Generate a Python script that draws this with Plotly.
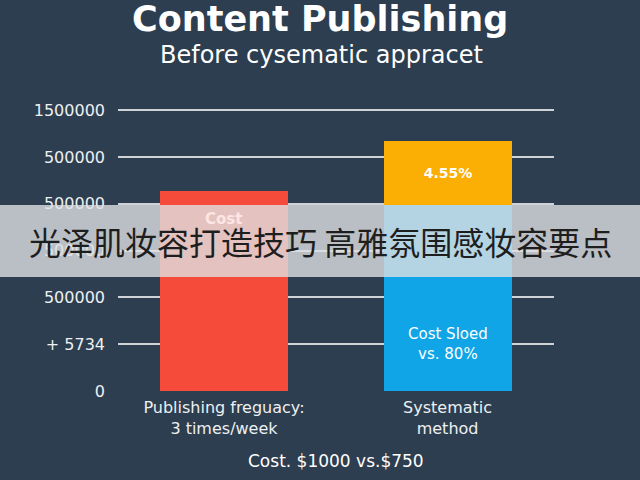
import plotly.graph_objects as go

# ---- data (in grid-line units) ----
categories = ["Publishing freguacy:<br>3 times/week", "Systematic<br>method"]
red_values = [4.27, None]
blue_values = [None, 3.97]
yellow_values = [None, 1.37]
tick_values = [0, 1, 2, 3, 4, 5, 6]
tick_labels = ["0", "+ 5734", "500000", "500000", "500000", "500000", "1500000"]

title_text = "Content Publishing"
subtitle_text = "Before cysematic appracet"
footer_text = "Cost. $1000 vs.$750"
banner_text = "光泽肌妆容打造技巧 高雅氛围感妆容要点"

BG = "#2c3e4f"
RED = "#f44b3a"
BLUE = "#0fa5e6"
YELLOW = "#fbae03"
FONT = "DejaVu Sans, sans-serif"

L, R, T, B = 118, 86, 100, 89
PW, PH = 640 - L - R, 480 - T - B


def px_x(x):
    return (x - L) / PW


def px_y(y_from_top):
    return (480 - y_from_top - B) / PH


x_idx = list(range(len(categories)))

fig = go.Figure()
fig.add_trace(go.Bar(x=x_idx, y=red_values, marker=dict(color=RED, line_width=0),
                     width=0.573, hoverinfo="skip"))
fig.add_trace(go.Bar(x=x_idx, y=blue_values, marker=dict(color=BLUE, line_width=0),
                     width=0.573, hoverinfo="skip"))
fig.add_trace(go.Bar(x=x_idx, y=yellow_values, marker=dict(color=YELLOW, line_width=0),
                     width=0.573, hoverinfo="skip",
                     text=[None, "4.55%"], textposition="inside", insidetextanchor="middle",
                     textfont=dict(family=FONT, size=14, color="white", weight="bold")))

fig.update_layout(
    barmode="stack",
    width=640, height=480,
    paper_bgcolor=BG, plot_bgcolor=BG,
    margin=dict(l=L, r=R, t=T, b=B),
    showlegend=False,
    bargap=0,
    xaxis=dict(range=[-0.474, 1.476], tickvals=x_idx, ticktext=categories,
               showgrid=False, zeroline=False, showline=False, ticks="",
               tickfont=dict(family=FONT, size=16, color="#eef0f2"),
               ticklabelstandoff=5, fixedrange=True),
    yaxis=dict(range=[0, 6.22], tickvals=tick_values, ticktext=tick_labels,
               showgrid=True, gridcolor="#cfd3d7", gridwidth=1.5,
               zeroline=False, showline=False, ticks="",
               tickfont=dict(family=FONT, size=16, color="#eef0f2"),
               ticklabelstandoff=12, fixedrange=True),
    font=dict(family=FONT),
)

ann = [
    dict(text=title_text, x=px_x(320), y=px_y(19), xref="paper", yref="paper",
         showarrow=False, xanchor="center", yanchor="middle",
         font=dict(family=FONT, size=35, color="white", weight="bold")),
    dict(text=subtitle_text, x=px_x(321), y=px_y(55), xref="paper", yref="paper",
         showarrow=False, xanchor="center", yanchor="middle",
         font=dict(family=FONT, size=24, color="white")),
    dict(text=footer_text, x=px_x(336), y=px_y(461), xref="paper", yref="paper",
         showarrow=False, xanchor="center", yanchor="middle",
         font=dict(family=FONT, size=17, color="white")),
    dict(text="Cost", x=0, y=3.67, xref="x", yref="y", showarrow=False,
         font=dict(family=FONT, size=15, color="#fde6e3", weight="bold")),
    dict(text="Cost Sloed<br>vs. 80%", x=1, y=1.0, xref="x", yref="y", showarrow=False,
         font=dict(family=FONT, size=15, color="white")),
    dict(text=banner_text, x=px_x(320), y=px_y(241), xref="paper", yref="paper",
         showarrow=False, xanchor="center", yanchor="middle",
         font=dict(family="Noto Sans CJK SC", size=32, color="#1e1e1e")),
]
fig.update_layout(annotations=ann)

# semi-transparent banner across the chart
fig.add_shape(type="rect", xref="paper", yref="paper",
              x0=px_x(0), x1=px_x(640),
              y0=px_y(277), y1=px_y(205),
              fillcolor="rgba(222,224,226,0.80)", line_width=0, layer="above")

fig.write_html("out.html", config={"displayModeBar": False},
               post_script="document.body.style.margin='0';document.body.style.background='%s';" % BG)
